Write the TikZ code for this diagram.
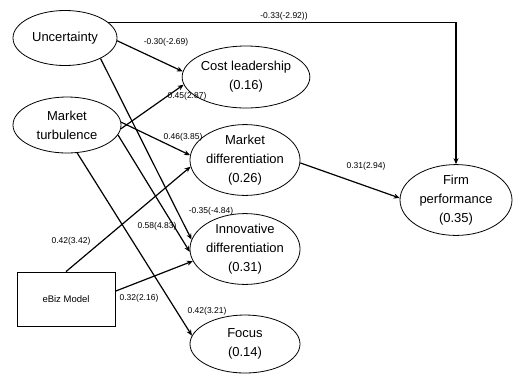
\documentclass[tikz,border=0pt]{standalone}
\usepackage{fontspec}
\setmainfont{Liberation Sans}
\usetikzlibrary{positioning,shapes.geometric,arrows.meta}

\begin{document}
\begin{tikzpicture}[x=1pt,y=-1pt]
        \tikzstyle{factor}=[draw, ellipse, line width=0.8pt, inner sep=0pt, align=center, font=\fontsize{13}{19}\selectfont]
        \tikzstyle{path}=[line width=1.2pt, -{Stealth[length=6pt,width=5pt]}]
        \tikzstyle{coef}=[font=\fontsize{8.5}{10}\selectfont, inner sep=0pt]

        \useasboundingbox (0,0) rectangle (513,376);

        % exogenous factors
        \node (unc)   [factor, minimum width=104pt, minimum height=55pt] at (65,38) {Uncertainty};
        \node (turb)  [factor, minimum width=108pt, minimum height=56pt] at (67,125) {Market\\turbulence};
        \node (ebiz)  [draw, line width=0.8pt, minimum width=98pt, minimum height=54pt, font=\fontsize{9.5}{11}\selectfont] at (66,299) {eBiz Model};

        % strategies
        \node (cost)  [factor, minimum width=112pt, minimum height=62pt] at (246,77) {Cost leadership\\(0.16)};
        \node (mdiff) [factor, minimum width=110pt, minimum height=65pt] at (245,160) {Market\\differentiation\\(0.26)};
        \node (idiff) [factor, minimum width=110pt, minimum height=64pt] at (245,249) {Innovative\\differentiation\\(0.31)};
        \node (focus) [factor, minimum width=110pt, minimum height=58pt] at (245,344) {Focus\\(0.14)};

        % outcome
        \node (firm)  [factor, minimum width=112pt, minimum height=66pt] at (456,200) {Firm\\performance\\(0.35)};

        \draw[path] (unc.20) -| (firm.north);
        \draw[path] (unc.-3) -- (cost.175);
        \draw[path] (unc.-30) -- (idiff.170);
        \draw[path] (turb.-4) -- (cost.187);
        \draw[path] (turb.3) -- (mdiff.175);
        \draw[path] (turb.-11) -- (idiff.183);
        \draw[path] (turb.-70) -- (focus.171);
        \draw[path] (ebiz.north) -- (mdiff.187);
        \draw[path] (ebiz.9) -- (idiff.193);
        \draw[path] (mdiff.-3) -- (firm.178);

        \node (c1)  [coef] at (284,16)  {-0.33(-2.92))};
        \node (c2)  [coef] at (166,42)  {-0.30(-2.69)};
        \node (c3)  [coef] at (187,96)  {0.45(2.87)};
        \node (c4)  [coef] at (183,137) {0.46(3.85)};
        \node (c5)  [coef] at (211,211) {-0.35(-4.84)};
        \node (c6)  [coef] at (157,226) {0.58(4.83)};
        \node (c7)  [coef] at (71,241)  {0.42(3.42)};
        \node (c8)  [coef] at (139,298) {0.32(2.16)};
        \node (c9)  [coef] at (207,311) {0.42(3.21)};
        \node (c10) [coef] at (366,166) {0.31(2.94)};

    \end{tikzpicture}
\end{document}
